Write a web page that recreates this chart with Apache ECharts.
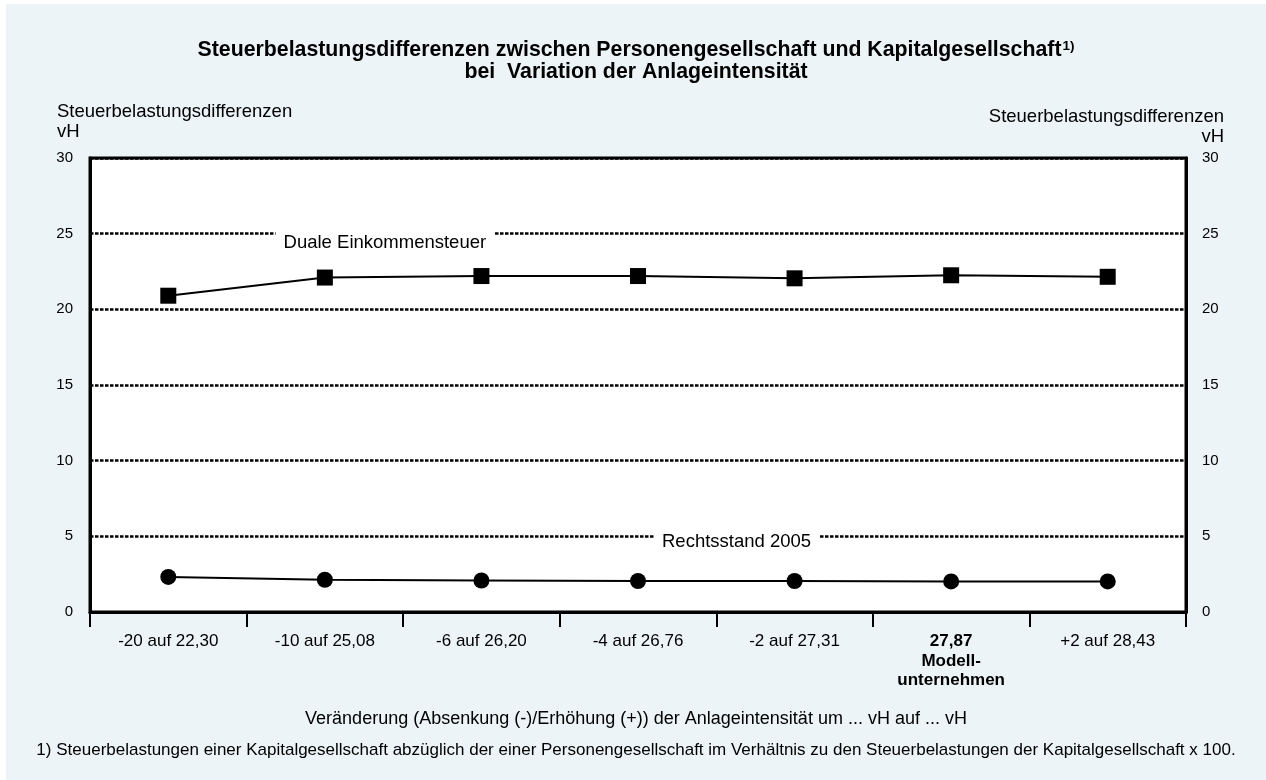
<!DOCTYPE html>
<html>
<head>
<meta charset="utf-8">
<script src="https://cdn.jsdelivr.net/npm/echarts@6/dist/echarts.min.js"></script>
<style>
  html, body { margin: 0; padding: 0; background: #fff; }
  #chart { position: absolute; left: 6px; top: 4px; width: 1260px; height: 776px; }
</style>
</head>
<body>
<div id="chart"></div>
<script>
  // Kategorien (Veränderung der Anlageintensität)
  const categories = ['-20 auf 22,30', '-10 auf 25,08', '-6 auf 26,20', '-4 auf 26,76', '-2 auf 27,31', '27,87\nModell-\nunternehmen', '+2 auf 28,43']
  // Steuerbelastungsdifferenzen in vH
  const dualeEinkommensteuer = [20.9, 22.1, 22.2, 22.2, 22.05, 22.25, 22.15]
  const rechtsstand2005 = [2.32, 2.13, 2.08, 2.05, 2.05, 2.02, 2.02]
  // y-Achse
  const yMin = 0
  const yMax = 30
  const yStep = 5

  const font = 'Liberation Sans, Arial, sans-serif'

  const chart = echarts.init(document.getElementById('chart'))

  // Beschriftung einer Linie, sitzt auf einer Gitterlinie mit weissem Hintergrund
  const lineLabel = (offset) => ({
    show: true,
    formatter: '{a}',
    position: 'inside',
    offset: offset,
    align: 'center',
    verticalAlign: 'middle',
    fontFamily: font,
    fontSize: 18.5,
    color: '#000',
    backgroundColor: '#fff',
    padding: [3, 8, 2, 8]
  })

  chart.setOption({
    backgroundColor: '#ecf4f7',
    animation: false,
    title: [
      {
        text: '{b|Steuerbelastungsdifferenzen zwischen Personengesellschaft und Kapitalgesellschaft}{sup|1)}\n{b|bei  Variation der Anlageintensität}',
        left: 'center',
        top: 30,
        textStyle: {
          rich: {
            b: { fontFamily: font, fontSize: 21.3, fontWeight: 'bold', color: '#000', lineHeight: 22 },
            sup: { fontFamily: font, fontSize: 13.5, fontWeight: 'bold', color: '#000', lineHeight: 22, verticalAlign: 'top', padding: [0, 0, 8, 1] }
          }
        }
      },
      {
        text: 'Steuerbelastungsdifferenzen\nvH',
        left: 51,
        top: 98,
        padding: 0,
        textStyle: { fontFamily: font, fontSize: 18.5, fontWeight: 'normal', color: '#000', lineHeight: 20 }
      },
      {
        text: 'Steuerbelastungsdifferenzen\nvH',
        left: 1218,
        top: 103,
        padding: 0,
        textAlign: 'right',
        textStyle: { fontFamily: font, fontSize: 18.5, fontWeight: 'normal', color: '#000', lineHeight: 20, align: 'right' }
      },
      {
        text: 'Veränderung (Absenkung (-)/Erhöhung (+)) der Anlageintensität um ... vH auf ... vH',
        left: 630,
        top: 706,
        padding: 0,
        textAlign: 'center',
        textStyle: { fontFamily: font, fontSize: 18, fontWeight: 'normal', color: '#000' }
      },
      {
        text: '1) Steuerbelastungen einer Kapitalgesellschaft abzüglich der einer Personengesellschaft im Verhältnis zu den Steuerbelastungen der Kapitalgesellschaft x 100.',
        left: 630,
        top: 738,
        padding: 0,
        textAlign: 'center',
        textStyle: { fontFamily: font, fontSize: 17, fontWeight: 'normal', color: '#000' }
      }
    ],
    grid: {
      left: 84,
      right: 80,
      top: 154,
      bottom: 168,
      show: true,
      backgroundColor: '#fff',
      borderColor: '#000',
      borderWidth: 3
    },
    xAxis: {
      type: 'category',
      data: categories,
      boundaryGap: true,
      axisLine: { lineStyle: { color: '#000', width: 3 } },
      axisTick: { show: true, inside: false, length: 15, lineStyle: { color: '#000', width: 2 } },
      axisLabel: {
        interval: 0,
        margin: 20,
        fontFamily: font,
        fontSize: 17,
        color: '#000',
        lineHeight: 19.5,
        formatter: (v, i) => i === 5 ? v.split('\n').map(s => '{b|' + s + '}').join('\n') : v,
        rich: {
          b: { fontFamily: font, fontSize: 17, fontWeight: 'bold', color: '#000', lineHeight: 19.5 }
        }
      },
      splitLine: { show: false }
    },
    yAxis: [
      {
        type: 'value',
        min: yMin,
        max: yMax,
        interval: yStep,
        position: 'left',
        axisLine: { show: true, lineStyle: { color: '#000', width: 3 } },
        axisTick: { show: false },
        axisLabel: { margin: 17, fontFamily: font, fontSize: 15, color: '#000' },
        splitLine: { show: true, lineStyle: { color: '#000', width: 2.5, type: [3.5, 1.5] } }
      },
      {
        type: 'value',
        min: yMin,
        max: yMax,
        interval: yStep,
        position: 'right',
        axisLine: { show: true, lineStyle: { color: '#000', width: 3 } },
        axisTick: { show: false },
        axisLabel: { margin: 16, fontFamily: font, fontSize: 15, color: '#000' },
        splitLine: { show: false }
      }
    ],
    series: [
      {
        name: 'Duale Einkommensteuer',
        type: 'line',
        data: dualeEinkommensteuer.map((v, i) => i === 1 ? { value: v, label: lineLabel([60, -35]) } : v),
        symbol: 'rect',
        symbolSize: 16,
        itemStyle: { color: '#000' },
        lineStyle: { color: '#000', width: 2 },
        emphasis: { disabled: true },
        z: 3
      },
      {
        name: 'Rechtsstand 2005',
        type: 'line',
        data: rechtsstand2005.map((v, i) => i === 4 ? { value: v, label: lineLabel([-58, -39]) } : v),
        symbol: 'circle',
        symbolSize: 16,
        itemStyle: { color: '#000' },
        lineStyle: { color: '#000', width: 2 },
        emphasis: { disabled: true },
        z: 3
      }
    ]
  })
</script>
</body>
</html>
